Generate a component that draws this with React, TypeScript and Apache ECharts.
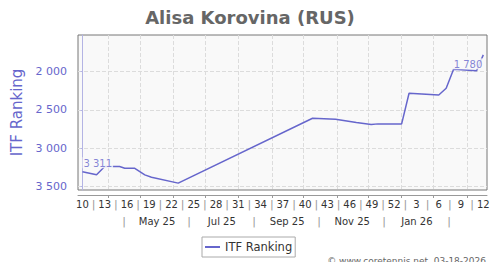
import React, { useEffect, useRef } from "react";
import * as echarts from "echarts";

// ---- data ----
const seriesName = "ITF Ranking";
// x: weeks elapsed since ISO week 10 of 2025
const weekX = [0, 1.9, 3, 5, 5.7, 7, 8.4, 9.3, 12.9, 31, 34.1, 36.9, 38.9, 39.8, 43, 44, 48, 49, 50, 53.1, 54];
const ranks = [3311, 3350, 3243, 3243, 3264, 3264, 3352, 3382, 3460, 2610, 2623, 2667, 2693, 2684, 2684, 2283, 2305, 2218, 1969, 1987, 1780];
const weekLabels = [10, 13, 16, 19, 22, 25, 28, 31, 34, 37, 40, 43, 46, 49, 52, 3, 6, 9, 12];
const weekStep = 3;
const monthLabels = ["May 25", "Jul 25", "Sep 25", "Nov 25", "Jan 26"];
const monthLabelX = [10.05, 18.78, 27.58, 36.34, 45.06];
const monthSepX = [5.61, 14.37, 23.13, 31.89, 40.65, 49.4];
const monthGridX = [3.49, 7.76, 12.25, 16.53, 21.01, 25.52, 29.77, 34.28, 38.54, 42.94, 47.3, 51.8];
const yTicks = [2000, 2500, 3000, 3500];
const xMin = -0.6;
const xMax = 54.5;
const yMin = 1520;
const yMax = 3550;
const title = "Alisa Korovina (RUS)";
const credit = "© www.coretennis.net, 03-18-2026";

const FONT = "DejaVu Sans";
const LINE = "#6666cc";

const fmtNum = (v: number) => String(Math.round(v)).replace(/\B(?=(\d{3})+(?!\d))/g, " ");
const near = (a: number, b: number) => Math.abs(a - b) < 1e-6;

export default function App() {
  const ref = useRef<HTMLDivElement>(null);
  useEffect(() => {
    if (!ref.current) return;
    const chart = echarts.init(ref.current, null, { renderer: "svg" });

    const weekPos = weekLabels.map((_, i) => i * weekStep);
    const weekSep = weekLabels.slice(1).map((_, i) => i * weekStep + weekStep / 2);
    const weekVals = [...weekPos, ...weekSep].sort((a, b) => a - b);
    const monthVals = [...monthLabelX, ...monthSepX].sort((a, b) => a - b);

    const data = weekX.map((x, i) => [x, ranks[i]]);
    const last = data.length - 1;

    chart.setOption({
      animation: false,
      textStyle: { fontFamily: FONT },
      title: {
        text: title,
        left: "center",
        top: 3,
        textStyle: { fontFamily: FONT, fontSize: 18, fontWeight: "bold", color: "#666" },
      },
      legend: {
        data: [{ name: seriesName, icon: "rect" }],
        left: 202,
        top: 237,
        itemWidth: 15,
        itemHeight: 2,
        padding: [4, 3, 4, 3],
        borderColor: "#aaa",
        borderWidth: 1,
        textStyle: { fontFamily: FONT, fontSize: 11.5, color: "#333" },
      },
      grid: {
        left: 78,
        right: 13,
        top: 35,
        bottom: 80,
        show: true,
        backgroundColor: "#f9f9f9",
        borderColor: "#777",
        borderWidth: 1,
      },
      xAxis: [
        {
          type: "value",
          position: "bottom",
          min: xMin,
          max: xMax,
          offset: 5,
          axisLine: { show: true, lineStyle: { color: "#999" } },
          axisTick: { show: true, length: 3, customValues: monthGridX, lineStyle: { color: "#999" } },
          splitLine: { show: true, lineStyle: { type: "dashed", color: "#dcdcdc" } },
          axisLabel: {
            customValues: weekVals,
            margin: 4,
            fontFamily: FONT,
            fontSize: 10,
            color: "#333",
            formatter: (v: number) => {
              const i = weekPos.findIndex((p) => near(p, v));
              if (i >= 0) return String(weekLabels[i]);
              return "{sep||}";
            },
            rich: { sep: { color: "#999", fontSize: 11, fontFamily: FONT } },
          },
        },
        {
          type: "value",
          position: "bottom",
          min: xMin,
          max: xMax,
          offset: 5,
          axisLine: { show: false },
          axisTick: { show: false },
          splitLine: { show: false },
          axisLabel: {
            customValues: monthVals,
            margin: 21,
            fontFamily: FONT,
            fontSize: 10,
            color: "#333",
            formatter: (v: number) => {
              const i = monthLabelX.findIndex((p) => near(p, v));
              if (i >= 0) return monthLabels[i];
              return "{sep||}";
            },
            rich: { sep: { color: "#999", fontSize: 11, fontFamily: FONT } },
          },
        },
      ],
      yAxis: {
        type: "value",
        inverse: true,
        min: yMin,
        max: yMax,
        offset: 5,
        name: seriesName,
        nameLocation: "middle",
        nameGap: 46,
        nameTextStyle: { color: LINE, fontSize: 15, fontFamily: FONT },
        axisLine: { show: true, lineStyle: { color: "#b4b4e4" } },
        axisTick: { show: true, length: 2, customValues: yTicks, lineStyle: { color: "#b4b4e4" } },
        splitLine: { show: true, lineStyle: { type: "dashed", color: "#dcdcdc" } },
        axisLabel: {
          customValues: yTicks,
          margin: 6,
          fontFamily: FONT,
          fontSize: 11,
          color: LINE,
          formatter: (v: number) => fmtNum(v),
        },
      },
      graphic: [
        {
          type: "text",
          x: 486,
          y: 256,
          style: {
            text: credit,
            fontFamily: FONT,
            fontSize: 9,
            fill: "#666",
            align: "right",
            verticalAlign: "top",
          },
        },
      ],
      series: [
        {
          name: seriesName,
          type: "line",
          xAxisIndex: 0,
          data,
          symbol: "none",
          lineStyle: { color: LINE, width: 1.5 },
          itemStyle: { color: LINE },
          z: 2,
        },
        {
          name: "labels",
          type: "scatter",
          xAxisIndex: 0,
          silent: true,
          symbolSize: 1,
          itemStyle: { color: "rgba(0,0,0,0)" },
          z: 3,
          data: [
            {
              value: data[0],
              label: { show: true, position: "top", align: "left", distance: 3 },
            },
            {
              value: data[last],
              label: { show: true, position: "bottom", align: "right", distance: 3 },
            },
          ],
          label: {
            formatter: (p: any) => fmtNum(p.value[1]),
            fontFamily: FONT,
            fontSize: 10,
            color: LINE,
            backgroundColor: "#f9f9f9",
            padding: [1, 1, 0, 1],
          },
        },
      ],
    });
    return () => chart.dispose();
  }, []);
  return <div ref={ref} style={{ width: 500, height: 270, margin: -8 }} />;
}
